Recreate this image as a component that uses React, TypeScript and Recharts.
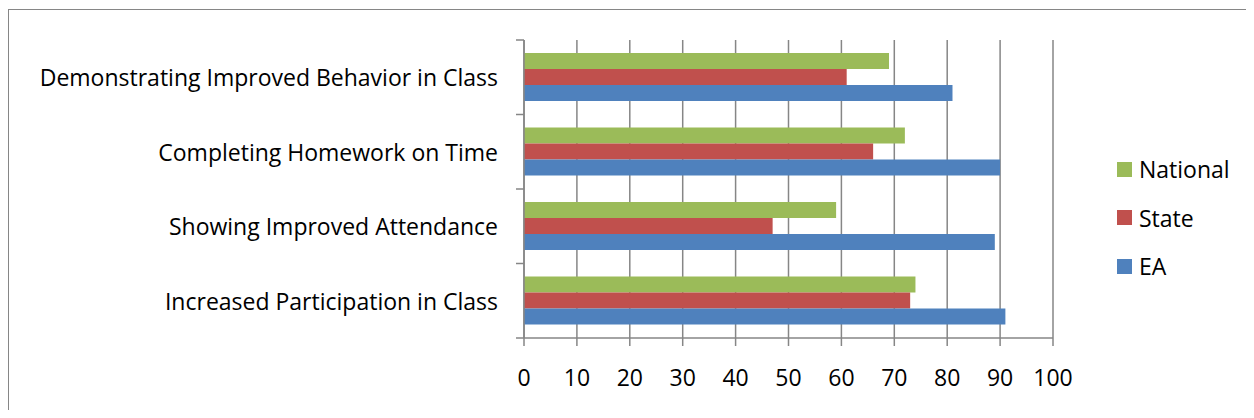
import React from 'react';
import { BarChart, Bar, XAxis, YAxis, CartesianGrid } from 'recharts';

const categories = [
  'Demonstrating Improved Behavior in Class',
  'Completing Homework on Time',
  'Showing Improved Attendance',
  'Increased Participation in Class',
];
const national = [69, 72, 59, 74];
const state = [61, 66, 47, 73];
const ea = [81, 90, 89, 91];
const xTicks = [0, 10, 20, 30, 40, 50, 60, 70, 80, 90, 100];
const seriesNames = ['National', 'State', 'EA'];
const seriesColors = ['#9BBB59', '#C0504D', '#4F81BD'];

const data = categories.map((c, i) => ({ name: c, National: national[i], State: state[i], EA: ea[i] }));

const FONT = '"Open Sans", sans-serif';
const AXIS = '#868686';
const CHART_W = 1240;
const CHART_H = 400;
const MARGIN = { top: 30, right: 196, bottom: 0, left: 0 };
const X_AXIS_H = 72;
const PLOT_H = CHART_H - MARGIN.top - MARGIN.bottom - X_AXIS_H;
const BAND = PLOT_H / categories.length;

const CategoryTick = (props: any) => {
  const { x, y, payload, index } = props;
  const last = index === categories.length - 1;
  return (
    <g>
      <line x1={x - 8} x2={x} y1={y - BAND / 2} y2={y - BAND / 2} stroke={AXIS} strokeWidth={1.5} />
      {last && <line x1={x - 8} x2={x} y1={y + BAND / 2} y2={y + BAND / 2} stroke={AXIS} strokeWidth={1.5} />}
      <text x={x - 26} y={y} textAnchor="end" dominantBaseline="central" fontSize={23} fontFamily={FONT} fill="#000">
        {payload.value}
      </text>
    </g>
  );
};

export default function App() {
  return (
    <div style={{ width: 1238, height: 402, overflow: 'hidden', fontFamily: FONT }}>
      <div style={{ position: 'relative', width: 1262, height: 430, border: `1px solid ${AXIS}`, marginTop: 1 }}>
        <BarChart
          width={CHART_W}
          height={CHART_H}
          data={data}
          layout="vertical"
          margin={MARGIN}
          barCategoryGap="17.5%"
          barGap={0}
        >
          <CartesianGrid horizontal={false} stroke={AXIS} strokeWidth={1.5} />
          <XAxis
            type="number"
            domain={[0, 100]}
            ticks={xTicks}
            interval={0}
            height={X_AXIS_H}
            tickSize={8}
            tickMargin={24}
            axisLine={{ stroke: AXIS, strokeWidth: 1.5 }}
            tickLine={{ stroke: AXIS, strokeWidth: 1.5 }}
            tick={{ fontSize: 23, fill: '#000', fontFamily: FONT }}
          />
          <YAxis
            type="category"
            dataKey="name"
            width={515}
            tickSize={0}
            tickMargin={0}
            tickLine={false}
            interval={0}
            axisLine={{ stroke: AXIS, strokeWidth: 1.5 }}
            tick={<CategoryTick />}
          />
          {seriesNames.map((s, i) => (
            <Bar key={s} dataKey={s} fill={seriesColors[i]} isAnimationActive={false} />
          ))}
        </BarChart>
        <div style={{ position: 'absolute', left: 1108, top: 135 }}>
          {seriesNames.map((s, i) => (
            <div key={s} style={{ display: 'flex', alignItems: 'center', height: 48.5 }}>
              <span style={{ width: 15, height: 15, background: seriesColors[i], display: 'inline-block', marginRight: 7 }} />
              <span style={{ fontSize: 23, color: '#000', lineHeight: '24px' }}>{s}</span>
            </div>
          ))}
        </div>
      </div>
    </div>
  );
}
